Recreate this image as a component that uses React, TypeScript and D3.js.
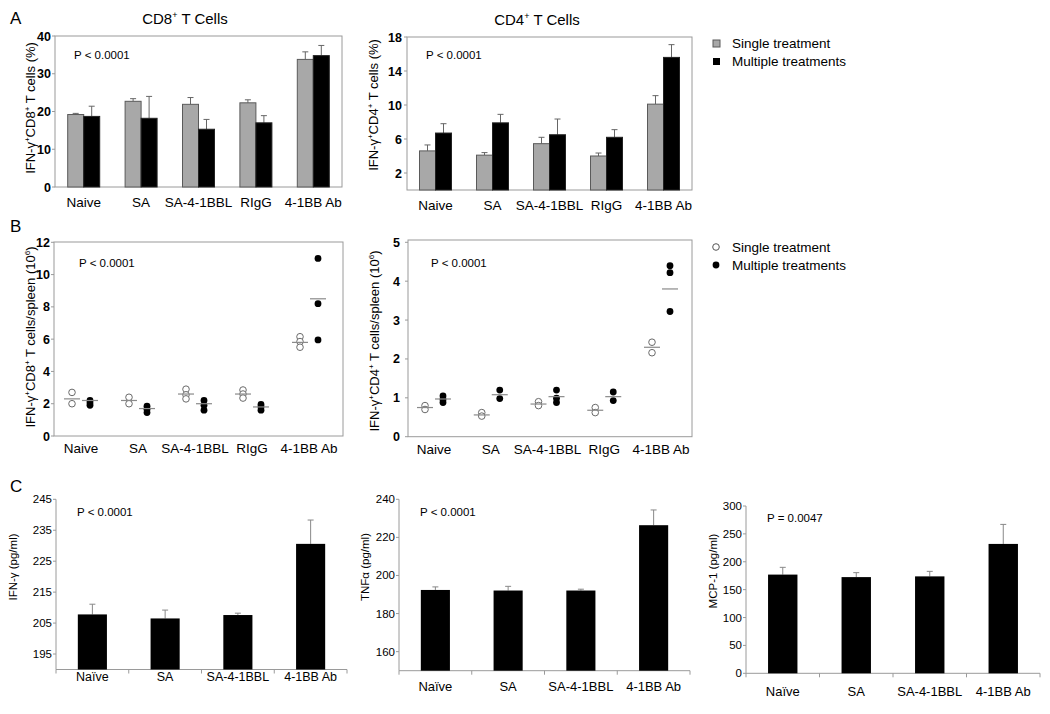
import React from "react";
import * as d3 from "d3";

const FONT = "'Liberation Sans', Arial, Helvetica, sans-serif";

// ---------- DATA ----------
const categoriesAB = ["Naive", "SA", "SA-4-1BBL", "RIgG", "4-1BB Ab"];
const categoriesC = ["Naïve", "SA", "SA-4-1BBL", "4-1BB Ab"];
const legendLabels = ["Single treatment", "Multiple treatments"];

// Panel A (% of cells)
const cd8PctSingle = [19.2, 22.7, 21.9, 22.3, 33.8];
const cd8PctSingleErr = [0.3, 0.7, 1.8, 0.8, 2.0];
const cd8PctMultiple = [18.7, 18.2, 15.3, 17.0, 34.8];
const cd8PctMultipleErr = [2.7, 5.8, 2.6, 1.9, 2.7];
const cd8PctTicks = [0, 10, 20, 30, 40];

const cd4PctSingle = [4.6, 4.1, 5.45, 4.0, 10.1];
const cd4PctSingleErr = [0.7, 0.3, 0.75, 0.35, 1.0];
const cd4PctMultiple = [6.7, 7.9, 6.5, 6.2, 15.6];
const cd4PctMultipleErr = [1.1, 1.0, 1.85, 0.9, 1.5];
const cd4PctTicks = [2, 6, 10, 14, 18];

// Panel B (cells / spleen, 10^6)
const cd8SpleenSingle = [[2.7, 2.0], [2.4, 2.0], [2.9, 2.55, 2.3], [2.85, 2.6, 2.35], [6.15, 5.85, 5.5]];
const cd8SpleenSingleMean = [2.3, 2.2, 2.6, 2.6, 5.8];
const cd8SpleenMultiple = [[2.2, 2.05, 1.9], [1.85, 1.65, 1.45], [2.2, 1.9, 1.6], [1.95, 1.8, 1.6], [11.0, 8.2, 5.95]];
const cd8SpleenMultipleMean = [2.2, 1.7, 2.0, 1.8, 8.5];
const cd8SpleenTicks = [0, 2, 4, 6, 8, 10, 12];

const cd4SpleenSingle = [[0.8, 0.7], [0.62, 0.53], [0.9, 0.8], [0.75, 0.62], [2.43, 2.16]];
const cd4SpleenSingleMean = [0.75, 0.56, 0.84, 0.68, 2.3];
const cd4SpleenMultiple = [[1.05, 0.96, 0.88], [1.2, 0.98], [1.2, 0.99, 0.88], [1.15, 0.93], [4.4, 4.22, 3.22]];
const cd4SpleenMultipleMean = [0.97, 1.08, 1.03, 1.03, 3.8];
const cd4SpleenTicks = [0, 1, 2, 3, 4, 5];

// Panel C (pg/ml)
const ifngMean = [207.8, 206.5, 207.6, 230.6];
const ifngErr = [3.3, 2.7, 0.6, 7.7];
const ifngTicks = [195, 205, 215, 225, 235, 245];
const tnfaMean = [192.4, 192.1, 192.1, 226.4];
const tnfaErr = [1.6, 2.2, 0.7, 8.0];
const tnfaTicks = [160, 180, 200, 220, 240];
const mcp1Mean = [177, 172.5, 173.8, 232];
const mcp1Err = [13, 8, 9, 35];
const mcp1Ticks = [0, 50, 100, 150, 200, 250, 300];

// ---------- HELPERS ----------
function YLabel({ x, y, size, parts }) {
  let shifted = false;
  return (
    <text transform={`translate(${x},${y}) rotate(-90)`} textAnchor="middle" fontSize={size} fontFamily={FONT} fill="#000">
      {parts.map(([t, sup], i) => {
        let dy = 0;
        if (sup && !shifted) { dy = -size * 0.4; shifted = true; }
        else if (!sup && shifted) { dy = size * 0.4; shifted = false; }
        return (
          <tspan key={i} dy={dy} fontSize={sup ? size * 0.62 : size}>{t}</tspan>
        );
      })}
    </text>
  );
}

function ErrorBar({ x, y0, y1, color = "#777", cap = 3 }) {
  return (
    <g stroke={color} strokeWidth={1}>
      <line x1={x} x2={x} y1={y0} y2={y1} />
      <line x1={x - cap} x2={x + cap} y1={y1} y2={y1} />
    </g>
  );
}

function BarPairPanel({ left, right, top, bottom, domain, ticks, single, singleErr, multiple, multipleErr, labelOffset }) {
  const x = d3.scaleBand().domain(categoriesAB).range([left, right]);
  const y = d3.scaleLinear().domain(domain).range([bottom, top]);
  const bw = 16;
  return (
    <g fontFamily={FONT}>
      <rect x={left} y={top} width={right - left} height={bottom - top} fill="none" stroke="#9a9a9a" strokeWidth={1} />
      {ticks.map((t) => (
        <g key={t}>
          <line x1={left - 3} x2={left} y1={y(t)} y2={y(t)} stroke="#9a9a9a" />
          <text x={left - labelOffset} y={y(t) + 4.5} textAnchor="end" fontSize={12.5} fontWeight="bold">{t}</text>
        </g>
      ))}
      {categoriesAB.map((c, i) => {
        const cx = x(c) + x.bandwidth() / 2;
        return (
          <g key={c}>
            <ErrorBar x={cx - bw / 2} y0={y(single[i])} y1={y(single[i] + singleErr[i])} color="#666" />
            <ErrorBar x={cx + bw / 2} y0={y(multiple[i])} y1={y(multiple[i] + multipleErr[i])} color="#666" />
            <rect x={cx - bw} y={y(single[i])} width={bw} height={bottom - y(single[i])} fill="#a8a8a8" stroke="#5a5a5a" strokeWidth={1} />
            <rect x={cx} y={y(multiple[i])} width={bw} height={bottom - y(multiple[i])} fill="#000" stroke="#222" strokeWidth={1} />
            <text x={cx} y={bottom + 20} textAnchor="middle" fontSize={13.5}>{c}</text>
          </g>
        );
      })}
    </g>
  );
}

function DotPanel({ left, right, top, bottom, yTop, domain, ticks, pointRange, single, singleMean, multiple, multipleMean, labelOffset }) {
  const x = d3.scalePoint().domain(categoriesAB).range(pointRange);
  const y = d3.scaleLinear().domain(domain).range([bottom, yTop]);
  const off = 9;
  return (
    <g fontFamily={FONT}>
      <rect x={left} y={top} width={right - left} height={bottom - top} fill="none" stroke="#9a9a9a" strokeWidth={1} />
      {ticks.map((t) => (
        <g key={t}>
          <line x1={left - 3} x2={left} y1={y(t)} y2={y(t)} stroke="#9a9a9a" />
          <text x={left - labelOffset} y={y(t) + 4.5} textAnchor="end" fontSize={12.5} fontWeight="bold">{t}</text>
        </g>
      ))}
      {categoriesAB.map((c, i) => {
        const cx = x(c);
        return (
          <g key={c}>
            {single[i].map((v, j) => (
              <circle key={"s" + j} cx={cx - off} cy={y(v)} r={3.3} fill="#fff" stroke="#6a6a6a" strokeWidth={1} />
            ))}
            {multiple[i].map((v, j) => (
              <circle key={"m" + j} cx={cx + off} cy={y(v)} r={3.4} fill="#000" />
            ))}
            <line x1={cx - off - 8} x2={cx - off + 8} y1={y(singleMean[i])} y2={y(singleMean[i])} stroke="#8a8a8a" strokeWidth={1.2} />
            <line x1={cx + off - 8} x2={cx + off + 8} y1={y(multipleMean[i])} y2={y(multipleMean[i])} stroke="#8a8a8a" strokeWidth={1.2} />
            <text x={cx} y={bottom + 17} textAnchor="middle" fontSize={13.5}>{c}</text>
          </g>
        );
      })}
    </g>
  );
}

function CytokinePanel({ left, right, top, bottom, domain, ticks, mean, err, catSize, catY }) {
  const x = d3.scaleBand().domain(categoriesC).range([left, right]);
  const y = d3.scaleLinear().domain(domain).range([bottom, top]);
  const bw = x.bandwidth() * 0.4;
  const bounds = categoriesC.map((c) => x(c)).concat([right]);
  return (
    <g fontFamily={FONT}>
      <line x1={left} x2={left} y1={top} y2={bottom} stroke="#9a9a9a" />
      <line x1={left} x2={right} y1={bottom} y2={bottom} stroke="#9a9a9a" />
      {bounds.map((b, i) => (
        <line key={i} x1={b} x2={b} y1={bottom} y2={bottom + 4} stroke="#9a9a9a" />
      ))}
      {ticks.map((t) => (
        <g key={t}>
          <line x1={left - 3} x2={left} y1={y(t)} y2={y(t)} stroke="#9a9a9a" />
          <text x={left - 4} y={y(t) + 4} textAnchor="end" fontSize={11.5}>{t}</text>
        </g>
      ))}
      {categoriesC.map((c, i) => {
        const cx = x(c) + x.bandwidth() / 2;
        return (
          <g key={c}>
            <ErrorBar x={cx} y0={y(mean[i])} y1={y(mean[i] + err[i])} color="#888" />
            <rect x={cx - bw / 2} y={y(mean[i])} width={bw} height={bottom - y(mean[i])} fill="#000" />
            <text x={cx} y={catY} textAnchor="middle" fontSize={catSize}>{c}</text>
          </g>
        );
      })}
    </g>
  );
}

export default function App() {
  return (
    <svg width={1050} height={714} style={{ position: "absolute", left: 0, top: 0, background: "#fff" }} fontFamily={FONT}>
      <rect x={0} y={0} width={1050} height={714} fill="#fff" />
      {/* Panel letters */}
      <text x={10} y={24} fontSize={17}>A</text>
      <text x={10} y={232} fontSize={17}>B</text>
      <text x={10} y={492} fontSize={17}>C</text>

      {/* Titles */}
      <text x={185} y={24} textAnchor="middle" fontSize={15}>
        <tspan>CD8</tspan><tspan dy={-6} fontSize={9}>+</tspan><tspan dy={6}> T Cells</tspan>
      </text>
      <text x={537} y={25} textAnchor="middle" fontSize={15}>
        <tspan>CD4</tspan><tspan dy={-6} fontSize={9}>+</tspan><tspan dy={6}> T Cells</tspan>
      </text>

      {/* Panel A */}
      <BarPairPanel left={55} right={342} top={36} bottom={187} domain={[0, 40]} ticks={cd8PctTicks}
        single={cd8PctSingle} singleErr={cd8PctSingleErr} multiple={cd8PctMultiple} multipleErr={cd8PctMultipleErr} labelOffset={4} />
      <BarPairPanel left={407} right={692} top={37} bottom={190} domain={[0, 18]} ticks={cd4PctTicks}
        single={cd4PctSingle} singleErr={cd4PctSingleErr} multiple={cd4PctMultiple} multipleErr={cd4PctMultipleErr} labelOffset={5} />
      <YLabel x={35} y={108} size={13} parts={[["IFN-γ", false], ["+", true], ["CD8", false], ["+", true], [" T cells (%)", false]]} />
      <YLabel x={378} y={105} size={13} parts={[["IFN-γ", false], ["+", true], ["CD4", false], ["+", true], [" T cells (%)", false]]} />
      <text x={74} y={59} fontSize={11.5}>P &lt; 0.0001</text>
      <text x={426} y={59} fontSize={11.5}>P &lt; 0.0001</text>

      {/* Legend A */}
      <rect x={713} y={40} width={7} height={7} fill="#a8a8a8" stroke="#5a5a5a" />
      <rect x={713} y={58} width={7} height={7} fill="#000" />
      <text x={732} y={48} fontSize={13.5}>{legendLabels[0]}</text>
      <text x={732} y={66} fontSize={13.5}>{legendLabels[1]}</text>

      {/* Panel B */}
      <DotPanel left={54} right={343} top={242} bottom={436} yTop={242.3} domain={[0, 12]} ticks={cd8SpleenTicks}
        pointRange={[81, 309]} single={cd8SpleenSingle} singleMean={cd8SpleenSingleMean}
        multiple={cd8SpleenMultiple} multipleMean={cd8SpleenMultipleMean} labelOffset={4} />
      <DotPanel left={408} right={692} top={240} bottom={436.7} yTop={242.3} domain={[0, 5]} ticks={cd4SpleenTicks}
        pointRange={[434, 661]} single={cd4SpleenSingle} singleMean={cd4SpleenSingleMean}
        multiple={cd4SpleenMultiple} multipleMean={cd4SpleenMultipleMean} labelOffset={8} />
      <YLabel x={35} y={337} size={13} parts={[["IFN-γ", false], ["+", true], ["CD8", false], ["+", true], [" T cells/spleen (10", false], ["6", true], [")", false]]} />
      <YLabel x={379} y={341} size={13} parts={[["IFN-γ", false], ["+", true], ["CD4", false], ["+", true], [" T cells/spleen (10", false], ["6", true], [")", false]]} />
      <text x={79} y={267} fontSize={11.5}>P &lt; 0.0001</text>
      <text x={431} y={267} fontSize={11.5}>P &lt; 0.0001</text>

      {/* Legend B */}
      <circle cx={716} cy={247} r={3.3} fill="#fff" stroke="#555" />
      <circle cx={716} cy={265} r={3.4} fill="#000" />
      <text x={732} y={252} fontSize={13.5}>{legendLabels[0]}</text>
      <text x={732} y={270} fontSize={13.5}>{legendLabels[1]}</text>

      {/* Panel C */}
      <CytokinePanel left={56} right={347} top={499.3} bottom={669.5} domain={[190, 245]} ticks={ifngTicks}
        mean={ifngMean} err={ifngErr} catSize={12.5} catY={681} />
      <CytokinePanel left={399} right={690} top={499.3} bottom={670.7} domain={[150, 240]} ticks={tnfaTicks}
        mean={tnfaMean} err={tnfaErr} catSize={13} catY={691} />
      <CytokinePanel left={746} right={1040} top={506} bottom={673.3} domain={[0, 300]} ticks={mcp1Ticks}
        mean={mcp1Mean} err={mcp1Err} catSize={13} catY={696} />
      <YLabel x={17} y={567} size={11.5} parts={[["IFN-γ (pg/ml)", false]]} />
      <YLabel x={369} y={567} size={11.5} parts={[["TNFα (pg/ml)", false]]} />
      <YLabel x={717} y={571} size={11.5} parts={[["MCP-1 (pg/ml)", false]]} />
      <text x={77} y={516} fontSize={11.5}>P &lt; 0.0001</text>
      <text x={420} y={516} fontSize={11.5}>P &lt; 0.0001</text>
      <text x={767} y={522} fontSize={11.5}>P = 0.0047</text>
    </svg>
  );
}
